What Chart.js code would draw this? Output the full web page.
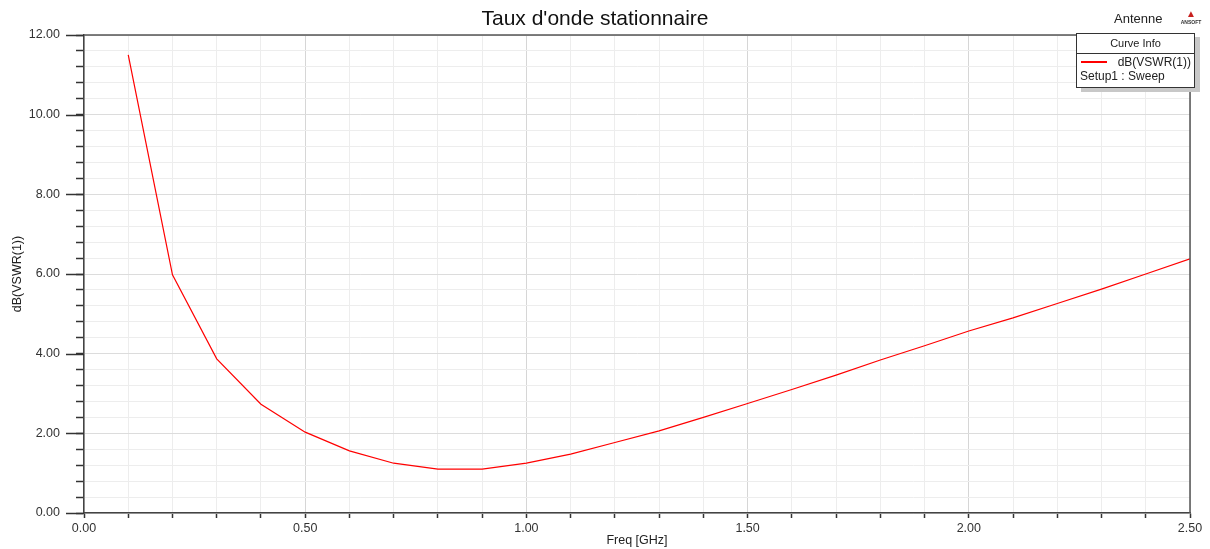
<!DOCTYPE html>
<html>
<head>
<meta charset="utf-8">
<script src="https://cdn.jsdelivr.net/npm/chart.js@4.4.0/dist/chart.umd.min.js"></script>
<style>
  body { margin: 0; background: #fff; font-family: "Liberation Sans", Arial, sans-serif; }
  #wrap { position: relative; width: 1210px; height: 549px; }
  #antenne { position: absolute; left: 1114px; top: 11px; font-size: 13px; color: #222; }
  #logo { position: absolute; left: 1176px; top: 9px; width: 30px; text-align: center; }
  #logo .tri { color: #c8201e; font-size: 10px; line-height: 10px; }
  #logo .nm { font-size: 5px; font-weight: bold; color: #333; line-height: 6px; letter-spacing: 0; }
  #curveinfo { position: absolute; left: 1076px; top: 33px; width: 117px; height: 53px;
    border: 1px solid #333; background: #fff; box-shadow: 5px 4px 0 #c8c8c8; font-size: 12px; color: #222; }
  #curveinfo .hd { text-align: center; font-size: 11px; height: 19px; line-height: 19px; border-bottom: 1px solid #333; }
  #curveinfo .row { position: relative; height: 15px; line-height: 15px; }
  #curveinfo .sw { position: absolute; left: 4px; top: 7px; width: 26px; height: 2px; background: #ff0000; }
  #curveinfo .nm { position: absolute; right: 3px; top: 1px; }
  #curveinfo .st { padding-left: 3px; line-height: 14px; }
</style>
</head>
<body>
<div id="wrap">
  <canvas id="myChart" width="1210" height="549"></canvas>
  <div id="antenne">Antenne</div>
  <div id="logo"><div class="tri">&#9650;</div><div class="nm">ANSOFT</div></div>
  <div id="curveinfo">
    <div class="hd">Curve Info</div>
    <div class="row"><div class="sw"></div><span class="nm">dB(VSWR(1))</span></div>
    <div class="st">Setup1 : Sweep</div>
  </div>
</div>
<script>
var freq = [0.1, 0.2, 0.3, 0.4, 0.5, 0.6, 0.7, 0.8, 0.9, 1.0, 1.1, 1.2, 1.3,
            1.4, 1.5, 1.6, 1.7, 1.8, 1.9, 2.0, 2.1, 2.2, 2.3, 2.4, 2.5];
var vswr = [11.50, 5.98, 3.87, 2.73, 2.03, 1.56, 1.25, 1.10, 1.10, 1.25, 1.48, 1.77, 2.06,
            2.40, 2.75, 3.10, 3.46, 3.84, 4.20, 4.57, 4.90, 5.26, 5.62, 6.00, 6.38];
var xMin = 0, xMax = 2.5, xStep = 0.1, xMajor = 0.5;
var yMin = 0, yMax = 12, yStep = 0.4, yMajor = 2;

function isMajor(v, m) {
  return Math.abs(v / m - Math.round(v / m)) < 1e-6;
}

var points = [];
for (var i = 0; i < freq.length; i++) {
  points.push({ x: freq[i], y: vswr[i] });
}

// top/right frame + the longer major ticks on the y axis
var framePlugin = {
  id: 'frame',
  afterDraw: function (chart) {
    var ctx = chart.ctx, a = chart.chartArea, ys = chart.scales.y;
    ctx.save();
    ctx.strokeStyle = '#555';
    ctx.lineWidth = 1.5;
    ctx.beginPath();
    ctx.moveTo(a.left, a.top);
    ctx.lineTo(a.right, a.top);
    ctx.lineTo(a.right, a.bottom);
    ctx.stroke();
    ctx.strokeStyle = '#333';
    ctx.lineWidth = 1.5;
    for (var v = yMin; v <= yMax + 1e-6; v += yMajor) {
      var py = Math.round(ys.getPixelForValue(v)) + 0.5;
      ctx.beginPath();
      ctx.moveTo(a.left - 18, py);
      ctx.lineTo(a.left, py);
      ctx.stroke();
    }
    ctx.restore();
  }
};

var ctx = document.getElementById('myChart');
var lineChart = new Chart(ctx, {
  type: 'line',
  data: {
    datasets: [{
      label: 'dB(VSWR(1))',
      data: points,
      borderColor: '#ff0000',
      backgroundColor: '#ff0000',
      borderWidth: 1.2,
      pointRadius: 0,
      tension: 0,
      fill: false
    }]
  },
  options: {
    responsive: false,
    animation: false,
    devicePixelRatio: 1,
    layout: { padding: { left: 0, right: 20, top: 0, bottom: 0 } },
    plugins: {
      legend: { display: false },
      tooltip: { enabled: false },
      title: {
        display: true,
        text: "Taux d'onde stationnaire",
        color: '#111',
        font: { family: '"Liberation Sans", Arial, sans-serif', size: 21, weight: 'normal' },
        padding: { top: 7, bottom: 2.8 }
      }
    },
    scales: {
      x: {
        type: 'linear',
        min: xMin,
        max: xMax,
        afterFit: function (s) { s.height = 36; },
        afterBuildTicks: function (s) {
          var t = [];
          for (var k = 0; k <= Math.round((xMax - xMin) / xStep); k++) {
            t.push({ value: +(xMin + k * xStep).toFixed(2) });
          }
          s.ticks = t;
        },
        ticks: {
          autoSkip: false,
          maxRotation: 0,
          padding: 3,
          color: '#333',
          font: { family: '"Liberation Sans", Arial, sans-serif', size: 12.5 },
          callback: function (v) { return isMajor(v, xMajor) ? v.toFixed(2) : ''; }
        },
        grid: {
          color: function (c) { return c.tick && isMajor(c.tick.value, xMajor) ? '#d6d6d6' : '#ededed'; },
          lineWidth: 1,
          tickColor: '#333',
          tickLength: 5,
          tickWidth: 1.5
        },
        border: { color: '#444', width: 1.5 },
        title: {
          display: true,
          text: 'Freq [GHz]',
          color: '#222',
          font: { family: '"Liberation Sans", Arial, sans-serif', size: 12.5 },
          padding: { top: 0, bottom: 1 }
        }
      },
      y: {
        min: yMin,
        max: yMax,
        afterFit: function (s) { s.width = 84; },
        afterBuildTicks: function (s) {
          var t = [];
          for (var k = 0; k <= Math.round((yMax - yMin) / yStep); k++) {
            t.push({ value: +(yMin + k * yStep).toFixed(2) });
          }
          s.ticks = t;
        },
        ticks: {
          autoSkip: false,
          padding: 16,
          color: '#333',
          font: { family: '"Liberation Sans", Arial, sans-serif', size: 12.5 },
          callback: function (v) { return isMajor(v, yMajor) ? v.toFixed(2) : ''; }
        },
        grid: {
          color: function (c) { return c.tick && isMajor(c.tick.value, yMajor) ? '#dcdcdc' : '#ededed'; },
          lineWidth: 1,
          tickColor: '#333',
          tickLength: 8,
          tickWidth: 1.5
        },
        border: { color: '#444', width: 1.5 },
        title: {
          display: true,
          text: 'dB(VSWR(1))',
          color: '#222',
          font: { family: '"Liberation Sans", Arial, sans-serif', size: 12.5 },
          padding: { top: 10, bottom: 0 }
        }
      }
    }
  },
  plugins: [framePlugin]
});
</script>
</body>
</html>
